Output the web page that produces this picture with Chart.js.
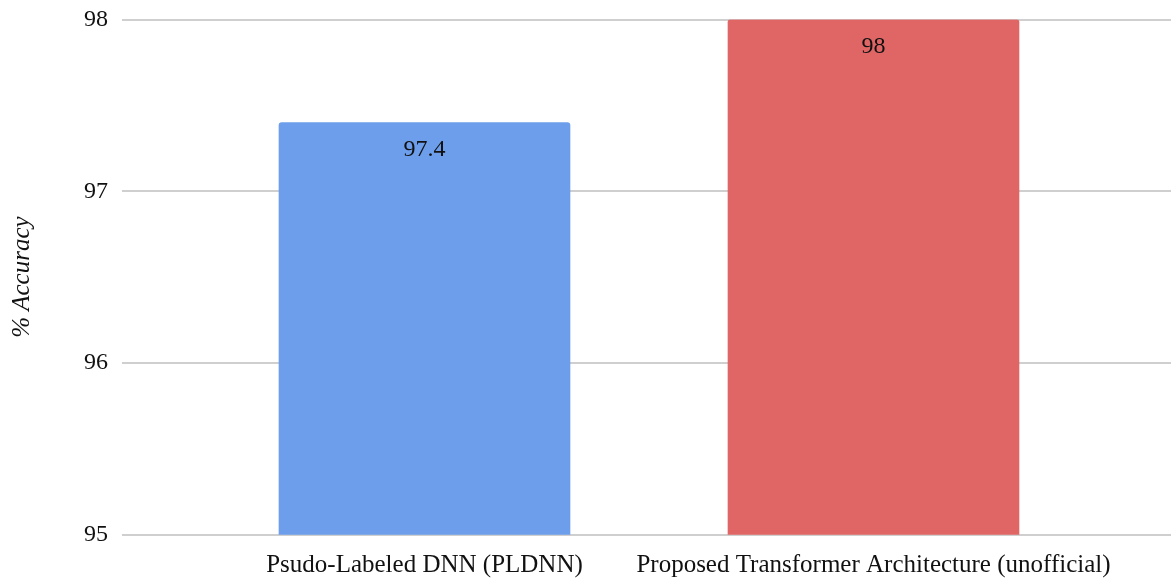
<!DOCTYPE html>
<html>
<head>
<meta charset="utf-8">
<script src="https://cdn.jsdelivr.net/npm/chart.js@4.4.1/dist/chart.umd.min.js"></script>
<style>
  html, body { margin: 0; padding: 0; background: #ffffff; }
  #wrap { width: 1171px; height: 579px; }
</style>
</head>
<body>
<div id="wrap"><canvas id="c" width="1171" height="579"></canvas></div>
<script>
// Model names shown along the x axis
const categories = ['Psudo-Labeled DNN (PLDNN)', 'Proposed Transformer Architecture (unofficial)'];
// Accuracy of each model, in percent
const accuracy = [97.4, 98];
// Value axis ticks
const yTicks = [95, 96, 97, 98];
const barColors = ['#6d9eeb', '#e06666'];

const FONT = '"Liberation Serif", "Times New Roman", serif';

// Writes the value inside the top of each bar
const valueLabels = {
  id: 'valueLabels',
  afterDatasetsDraw(chart) {
    const ctx = chart.ctx;
    const meta = chart.getDatasetMeta(0);
    ctx.save();
    ctx.font = '24px ' + FONT;
    ctx.fillStyle = '#111';
    ctx.textAlign = 'center';
    ctx.textBaseline = 'middle';
    meta.data.forEach((bar, i) => {
      ctx.fillText(String(accuracy[i]), bar.x, bar.y + 27);
    });
    ctx.restore();
  }
};

new Chart(document.getElementById('c'), {
  type: 'bar',
  data: {
    datasets: [{
      data: accuracy.map((v, i) => ({ x: i, y: v })),
      backgroundColor: barColors,
      borderRadius: { topLeft: 3, topRight: 3, bottomLeft: 0, bottomRight: 0 },
      borderSkipped: 'bottom',
      barThickness: 291
    }]
  },
  options: {
    responsive: false,
    animation: false,
    layout: { padding: { top: 19.5, right: 0, bottom: 0, left: 0 } },
    plugins: { legend: { display: false }, tooltip: { enabled: false } },
    scales: {
      x: {
        type: 'linear',
        offset: false,
        min: -0.6737,
        max: 1.6626,
        grid: { display: false, drawTicks: false },
        border: { display: false },
        afterBuildTicks(scale) {
          scale.ticks = categories.map((_, i) => ({ value: i }));
        },
        afterFit(scale) {
          scale.height = 44.3;
          scale.paddingLeft = 0;
          scale.paddingRight = 0;
        },
        ticks: {
          autoSkip: false,
          maxRotation: 0,
          padding: 16,
          color: '#111',
          font: { family: FONT, size: 25 },
          callback: (v) => categories[v]
        }
      },
      y: {
        min: 95,
        max: 98,
        afterBuildTicks(scale) {
          scale.ticks = yTicks.map(v => ({ value: v }));
        },
        afterFit(scale) {
          scale.width = 122;
          scale.paddingTop = 0;
          scale.paddingBottom = 0;
        },
        grid: { color: '#cfcfcf', lineWidth: 2, drawTicks: false },
        border: { display: false },
        ticks: {
          padding: 14,
          color: '#111',
          font: { family: FONT, size: 24 }
        },
        title: {
          display: true,
          text: '% Accuracy',
          color: '#111',
          padding: { top: 7, bottom: 0 },
          font: { family: FONT, size: 25, style: 'italic' }
        }
      }
    }
  },
  plugins: [valueLabels]
});
</script>
</body>
</html>
